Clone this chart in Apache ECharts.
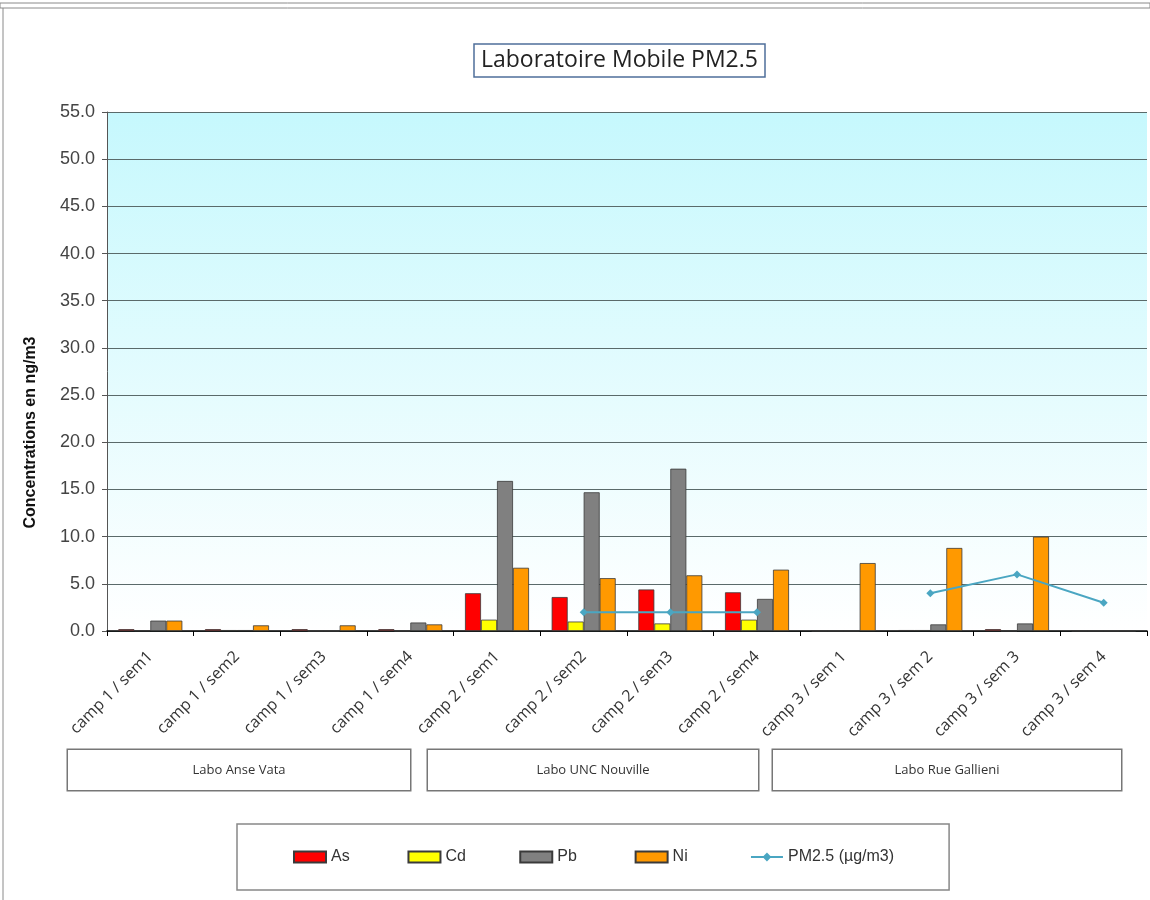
<!DOCTYPE html>
<html>
<head>
<meta charset="utf-8">
<script src="https://cdn.jsdelivr.net/npm/echarts@6/dist/echarts.min.js"></script>
<style>
  html, body { margin: 0; padding: 0; background: #fff; }
  #chart { width: 1150px; height: 900px; }
</style>
</head>
<body>
<div id="chart"></div>
<script>
// categories
const weeks = [
  'camp 1 / sem1', 'camp 1 / sem2', 'camp 1 / sem3', 'camp 1 / sem4',
  'camp 2 / sem1', 'camp 2 / sem2', 'camp 2 / sem3', 'camp 2 / sem4',
  'camp 3 / sem 1', 'camp 3 / sem 2', 'camp 3 / sem 3', 'camp 3 / sem 4'
]
const sites = ['Labo Anse Vata', 'Labo UNC Nouville', 'Labo Rue Gallieni']

// concentrations en ng/m3
const asValues = [0.2, 0.2, 0.2, 0.2, 4.0, 3.6, 4.4, 4.1, 0, 0.1, 0.2, 0]
const cdValues = [0.05, 0.1, 0, 0, 1.2, 1.0, 0.8, 1.2, 0, 0.1, 0, 0]
const pbValues = [1.1, 0.1, 0, 0.9, 15.9, 14.7, 17.2, 3.4, 0, 0.7, 0.8, 0]
const niValues = [1.1, 0.6, 0.6, 0.7, 6.7, 5.6, 5.9, 6.5, 7.2, 8.8, 10.0, 0]
// PM2.5 en µg/m3
const pmValues = [null, null, null, null, null, 2.0, 2.0, 2.0, null, 4.0, 6.0, 3.0]

const yTicks = { min: 0, max: 55, interval: 5 }

// espaces ajoutés pour avoir des colonnes de légende régulières
const legendPad = { As: 13, Cd: 12, Pb: 13, Ni: 14 }

const chart = echarts.init(document.getElementById('chart'))

const barStyle = (color) => ({
  color,
  borderColor: '#3a3a3a',
  borderWidth: 0.8
})

// boîte autour des libellés de site
const siteBox = (w) => ({
  width: w,
  height: 34,
  lineHeight: 34,
  align: 'center',
  padding: [3, 0, 3, 0],
  borderColor: '#777',
  borderWidth: 1.5,
  backgroundColor: '#fff',
  fontFamily: 'Open Sans',
  fontSize: 13,
  color: '#333'
})

chart.setOption({
  animation: false,
  backgroundColor: '#ffffff',
  title: {
    text: 'Laboratoire Mobile PM2.5',
    left: 474,
    top: 44,
    padding: [5, 7, 5, 7],
    borderColor: '#4f6f9a',
    borderWidth: 1.5,
    textStyle: {
      fontFamily: 'Open Sans',
      fontSize: 23,
      fontWeight: 'normal',
      color: '#222'
    }
  },
  graphic: [
    { type: 'rect', shape: { x: 0, y: 3, width: 1150, height: 5 }, style: { fill: 'none', stroke: '#8a8a8a', lineWidth: 1 } },
    { type: 'line', shape: { x1: 3, y1: 8, x2: 3, y2: 900 }, style: { stroke: '#8a8a8a', lineWidth: 1 } }
  ],
  legend: {
    left: 237,
    top: 824,
    padding: [25, 55, 25, 56],
    borderColor: '#888',
    borderWidth: 1.5,
    itemWidth: 32,
    itemHeight: 11,
    itemGap: 0,
    formatter: (name) => name + ' '.repeat(legendPad[name] || 0),
    textStyle: { fontFamily: 'Liberation Sans', fontSize: 16, color: '#333' },
    data: [
      { name: 'As', icon: 'rect' },
      { name: 'Cd', icon: 'rect' },
      { name: 'Pb', icon: 'rect' },
      { name: 'Ni', icon: 'rect' },
      { name: 'PM2.5 (µg/m3)' }
    ]
  },
  grid: [
    {
      left: 107, right: 3, top: 112, bottom: 269,
      show: true,
      borderWidth: 0,
      backgroundColor: new echarts.graphic.LinearGradient(0, 0, 0, 1, [
        { offset: 0, color: '#c6f8fd' },
        { offset: 1, color: '#ffffff' }
      ])
    },
    { left: 62, width: 1062, top: 700, height: 40 }
  ],
  xAxis: [
    {
      type: 'category',
      gridIndex: 0,
      data: weeks,
      axisLine: { lineStyle: { color: '#000', width: 1.5 } },
      axisTick: { show: true, length: 5, lineStyle: { color: '#000' } },
      axisLabel: {
        rotate: 45,
        interval: 0,
        margin: 23,
        fontFamily: 'Open Sans',
        fontSize: 16,
        color: '#333'
      }
    },
    {
      type: 'category',
      gridIndex: 1,
      data: sites,
      axisLine: { show: false },
      axisTick: { show: false },
      axisLabel: {
        interval: 0,
        margin: 13,
        formatter: (v, i) => '{s' + i + '|' + v + '}',
        rich: { s0: siteBox(342), s1: siteBox(330), s2: siteBox(348) }
      }
    }
  ],
  yAxis: [
    {
      type: 'value',
      gridIndex: 0,
      min: yTicks.min,
      max: yTicks.max,
      interval: yTicks.interval,
      name: 'Concentrations en ng/m3',
      nameLocation: 'middle',
      nameGap: 68,
      nameTextStyle: {
        fontFamily: 'Liberation Sans', fontSize: 16, fontWeight: 'bold', color: '#111',
        padding: [0, 122, 0, 0]
      },
      axisLine: { show: true, lineStyle: { color: '#555' } },
      axisTick: { show: true, length: 5, lineStyle: { color: '#555' } },
      axisLabel: {
        formatter: (v) => v.toFixed(1),
        margin: 12,
        fontFamily: 'Liberation Sans',
        fontSize: 18,
        color: '#444'
      },
      splitLine: { lineStyle: { color: '#5a6a6a', width: 1 } }
    },
    { type: 'value', gridIndex: 1, show: false }
  ],
  series: [
    { name: 'As', type: 'bar', data: asValues, itemStyle: barStyle('#ff0000'), barWidth: 16, barGap: '0%' },
    { name: 'Cd', type: 'bar', data: cdValues, itemStyle: barStyle('#ffff00'), barWidth: 16, barGap: '0%' },
    { name: 'Pb', type: 'bar', data: pbValues, itemStyle: barStyle('#808080'), barWidth: 16, barGap: '0%' },
    { name: 'Ni', type: 'bar', data: niValues, itemStyle: barStyle('#ff9900'), barWidth: 16, barGap: '0%' },
    {
      name: 'PM2.5 (µg/m3)',
      type: 'line',
      data: pmValues,
      connectNulls: false,
      symbol: 'diamond',
      symbolSize: 8,
      lineStyle: { color: '#4aa6c2', width: 2 },
      itemStyle: { color: '#4aa6c2' }
    }
  ]
})
</script>
</body>
</html>
